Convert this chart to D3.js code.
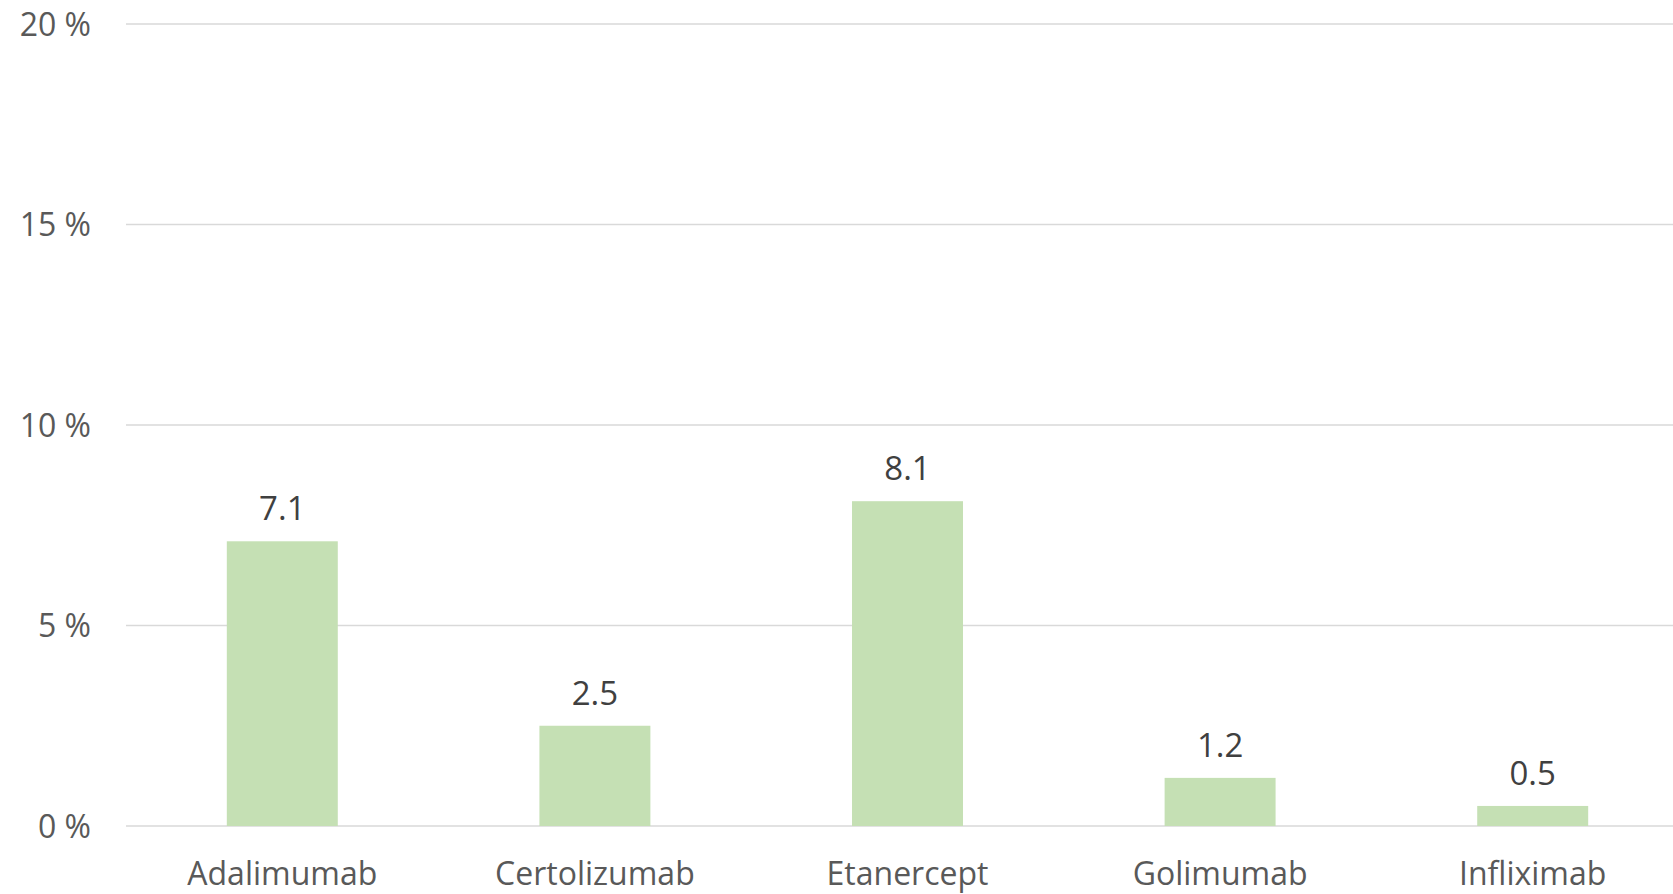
<!DOCTYPE html>
<html>
<head>
<meta charset="utf-8">
<script src="https://cdn.jsdelivr.net/npm/d3@7"></script>
<style>
  body { margin: 0; background: #fff; overflow: hidden; }
  text { font-family: "Open Sans", sans-serif; }
</style>
</head>
<body>
<script>
const width = 1673;
const height = 894;

const categories = ["Adalimumab", "Certolizumab", "Etanercept", "Golimumab", "Infliximab"];
const values = [7.1, 2.5, 8.1, 1.2, 0.5];
const yTicks = [0, 5, 10, 15, 20];

const svg = d3
  .select("body")
  .append("svg")
  .attr("width", width)
  .attr("height", height);

const x = d3
  .scaleBand()
  .domain(categories)
  .range([126, 1689])
  .paddingInner(0.645)
  .paddingOuter(0.3225);

const y = d3.scaleLinear().domain([0, 20]).range([826, 24]);

// gridlines
svg
  .selectAll("line.grid")
  .data(yTicks)
  .enter()
  .append("line")
  .attr("class", "grid")
  .attr("x1", 126)
  .attr("x2", width)
  .attr("y1", (d) => y(d))
  .attr("y2", (d) => y(d))
  .attr("stroke", "#d9d9d9")
  .attr("stroke-width", 1.5);

// y tick labels
svg
  .selectAll("text.ytick")
  .data(yTicks)
  .enter()
  .append("text")
  .attr("class", "ytick")
  .attr("x", 91)
  .attr("y", (d) => y(d))
  .attr("dy", "0.36em")
  .attr("text-anchor", "end")
  .attr("font-size", 32)
  .attr("fill", "#595959")
  .text((d) => d + " %");

// bars
svg
  .selectAll("rect")
  .data(values)
  .enter()
  .append("rect")
  .attr("x", (d, i) => x(categories[i]))
  .attr("width", x.bandwidth())
  .attr("y", (d) => y(d))
  .attr("height", (d) => y(0) - y(d))
  .attr("fill", "#c5e0b4");

// value labels
svg
  .selectAll("text.val")
  .data(values)
  .enter()
  .append("text")
  .attr("class", "val")
  .attr("x", (d, i) => x(categories[i]) + x.bandwidth() / 2)
  .attr("y", (d) => y(d) - 21)
  .attr("text-anchor", "middle")
  .attr("font-size", 33)
  .attr("fill", "#404040")
  .text((d) => d.toFixed(1));

// category labels
svg
  .selectAll("text.cat")
  .data(categories)
  .enter()
  .append("text")
  .attr("class", "cat")
  .attr("x", (d) => x(d) + x.bandwidth() / 2)
  .attr("y", 885)
  .attr("text-anchor", "middle")
  .attr("font-size", 32)
  .attr("fill", "#595959")
  .text((d) => d);
</script>
</body>
</html>
